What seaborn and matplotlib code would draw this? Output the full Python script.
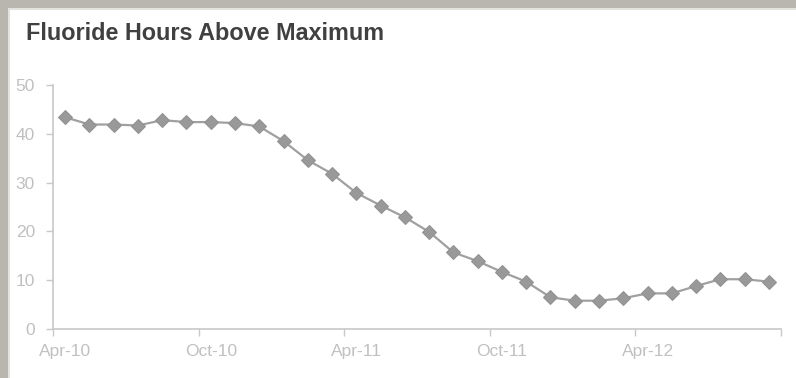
import matplotlib
matplotlib.use("Agg")
import matplotlib.pyplot as plt
from matplotlib.patches import Rectangle
from matplotlib.ticker import FixedLocator
import seaborn as sns
import pandas as pd
import numpy as np

months = ["Apr-10", "May-10", "Jun-10", "Jul-10", "Aug-10", "Sep-10",
          "Oct-10", "Nov-10", "Dec-10", "Jan-11", "Feb-11", "Mar-11",
          "Apr-11", "May-11", "Jun-11", "Jul-11", "Aug-11", "Sep-11",
          "Oct-11", "Nov-11", "Dec-11", "Jan-12", "Feb-12", "Mar-12",
          "Apr-12", "May-12", "Jun-12", "Jul-12", "Aug-12", "Sep-12"]
hours = [43.4, 41.9, 41.9, 41.7, 42.8, 42.4, 42.4, 42.2, 41.5, 38.5,
         34.6, 31.8, 27.9, 25.3, 22.9, 19.9, 15.7, 13.9, 11.7, 9.7,
         6.5, 5.8, 5.8, 6.3, 7.3, 7.3, 8.8, 10.2, 10.2, 9.7]
label_months = ["Apr-10", "Oct-10", "Apr-11", "Oct-11", "Apr-12"]
yticks = [0, 10, 20, 30, 40, 50]

df = pd.DataFrame({"idx": np.arange(len(months)), "month": months, "hours": hours})

sns.set_theme(style="white")
plt.rcParams['font.family'] = ['Liberation Sans', 'DejaVu Sans']

fig = plt.figure(figsize=(7.96, 3.78), dpi=100)
fig.patch.set_facecolor("white")
ax = fig.add_axes([53/796, 1 - 329/378, (781-53)/796, (329-85)/378])

sns.lineplot(data=df, x="idx", y="hours", ax=ax, color="#a0a0a0", linewidth=1.6,
             marker="D", markersize=7, markeredgecolor="#929292",
             markerfacecolor="#999999")

ax.set_xlim(-0.5, len(months) - 0.5)
ax.set_ylim(0, 50)
ax.set_yticks(yticks)
ax.set_yticklabels([str(v) for v in yticks])

label_pos = [months.index(m) for m in label_months]
ax.set_xticks(label_pos)
ax.set_xticklabels(label_months)
ax.xaxis.set_minor_locator(FixedLocator(np.arange(-0.5, len(months), 6)))
ax.tick_params(axis="x", which="major", length=0, pad=11, labelsize=12.5, labelcolor="#c0c0c0")
ax.tick_params(axis="x", which="minor", length=5, width=1, color="#c8c8c8", direction="out", bottom=True)
ax.tick_params(axis="y", which="major", length=5, width=1, color="#c8c8c8", direction="out",
               left=True, pad=8, labelsize=12.5, labelcolor="#c0c0c0")

ax.set_xlabel("")
ax.set_ylabel("")
for side in ["top", "right"]:
    ax.spines[side].set_visible(False)
for side in ["left", "bottom"]:
    ax.spines[side].set_color("#c8c8c8")
    ax.spines[side].set_linewidth(1.2)
ax.grid(False)

fig.text(26/796, 1 - 33/378, "Fluoride Hours Above Maximum", fontsize=16.8,
         fontweight="bold", color="#404040", ha="left", va="center",
         family=["Liberation Sans Narrow", "Liberation Sans", "DejaVu Sans"])

# frame bands (top and left)
fig.patches.append(Rectangle((0, 1 - 8/378), 1, 8/378, transform=fig.transFigure,
                             facecolor="#b9b6af", edgecolor="none", zorder=0))
fig.patches.append(Rectangle((0, 0), 8/796, 1, transform=fig.transFigure,
                             facecolor="#b9b6af", edgecolor="none", zorder=0))
fig.patches.append(Rectangle((8/796, 0), 1.5/796, 1 - 8/378, transform=fig.transFigure,
                             facecolor="#e4e2dc", edgecolor="none", zorder=0))
fig.patches.append(Rectangle((8/796, 1 - 9.5/378), 1, 1.5/378, transform=fig.transFigure,
                             facecolor="#e4e2dc", edgecolor="none", zorder=0))

fig.savefig("out.png", dpi=100, facecolor="white")
